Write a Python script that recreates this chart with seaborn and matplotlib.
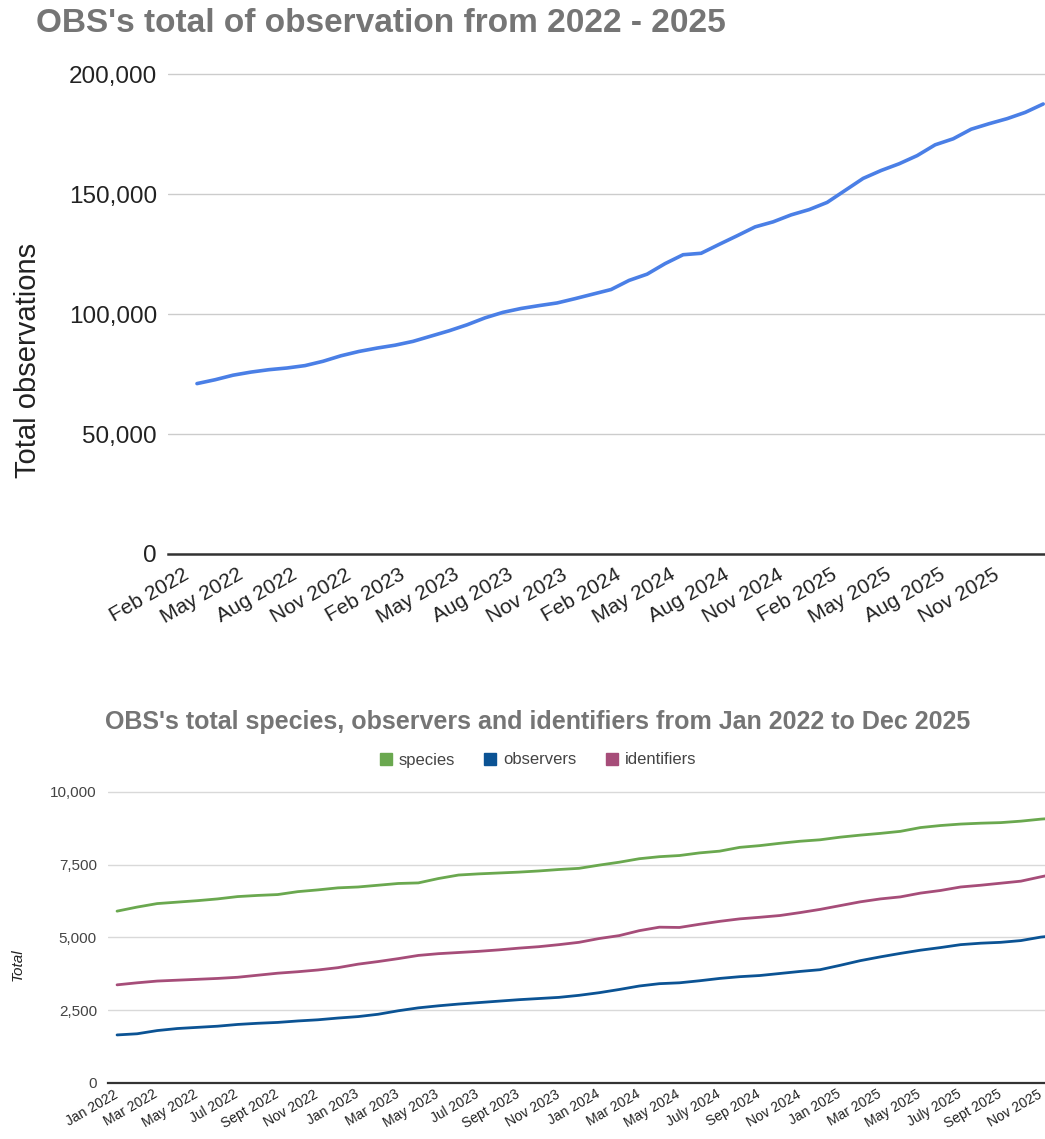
import matplotlib
matplotlib.use("Agg")
import matplotlib.pyplot as plt
import matplotlib.transforms as mtransforms
from matplotlib.ticker import FuncFormatter
from matplotlib.lines import Line2D
import pandas as pd
import seaborn as sns

# ---------------- data ----------------
months = pd.date_range("2022-01-01", "2025-12-01", freq="MS")
month_idx = list(range(len(months)))

total_observations = [
    71000, 72600, 74500, 75800, 76800, 77500, 78500, 80300, 82600, 84400,
    85800, 87000, 88600, 90800, 93000, 95500, 98400, 100700, 102300, 103500,
    104600, 106400, 108300, 110200, 114000, 116600, 121000, 124700, 125300, 129000,
    132600, 136300, 138400, 141300, 143500, 146500, 151500, 156500, 159800, 162600,
    166000, 170500, 173000, 177000, 179300, 181400, 184000, 187500,
]

species = [
    5900, 6040, 6160, 6210, 6260, 6320, 6400, 6440, 6470, 6570,
    6630, 6700, 6730, 6790, 6850, 6870, 7020, 7140, 7180, 7210,
    7240, 7280, 7330, 7370, 7480, 7580, 7700, 7770, 7810, 7900,
    7960, 8090, 8150, 8230, 8300, 8350, 8440, 8510, 8570, 8640,
    8770, 8840, 8890, 8920, 8940, 8990, 9060, 9110,
]
observers = [
    1650, 1690, 1800, 1870, 1910, 1950, 2010, 2050, 2080, 2130,
    2170, 2230, 2280, 2360, 2480, 2580, 2650, 2710, 2760, 2810,
    2860, 2900, 2940, 3010, 3100, 3210, 3330, 3410, 3440, 3510,
    3590, 3650, 3690, 3760, 3830, 3890, 4040, 4200, 4330, 4450,
    4560, 4650, 4750, 4800, 4830, 4890, 5010, 5080,
]
identifiers = [
    3370, 3440, 3500, 3530, 3560, 3590, 3630, 3700, 3770, 3820,
    3880, 3960, 4080, 4170, 4270, 4380, 4440, 4480, 4520, 4570,
    4630, 4680, 4750, 4830, 4960, 5060, 5230, 5350, 5340, 5450,
    5550, 5635, 5690, 5750, 5850, 5960, 6090, 6220, 6320, 6390,
    6520, 6610, 6730, 6790, 6860, 6930, 7080, 7220,
]

top_tick_months = ["Feb 2022", "May 2022", "Aug 2022", "Nov 2022", "Feb 2023", "May 2023",
                   "Aug 2023", "Nov 2023", "Feb 2024", "May 2024", "Aug 2024", "Nov 2024",
                   "Feb 2025", "May 2025", "Aug 2025", "Nov 2025"]
bottom_tick_labels = ["Jan 2022", "Mar 2022", "May 2022", "Jul 2022", "Sept 2022", "Nov 2022",
                      "Jan 2023", "Mar 2023", "May 2023", "Jul 2023", "Sept 2023", "Nov 2023",
                      "Jan 2024", "Mar 2024", "May 2024", "July 2024", "Sep 2024", "Nov 2024",
                      "Jan 2025", "Mar 2025", "May 2025", "July 2025", "Sept 2025", "Nov 2025"]

series_names = ["species", "observers", "identifiers"]
series_colors = ["#6aa84f", "#0b5394", "#a64d79"]

# ---------------- style ----------------
sns.set_theme(style="white")
plt.rcParams["font.family"] = ["Liberation Sans", "DejaVu Sans"]

W, H = 1045, 1139
fig = plt.figure(figsize=(W / 100, H / 100), dpi=100)
fig.patch.set_facecolor("white")


def px_rect(left, top, right, bottom):
    return [left / W, 1 - bottom / H, (right - left) / W, (bottom - top) / H]


thousands = FuncFormatter(lambda v, p: f"{int(v):,}")

# ---------------- top chart ----------------
ax1 = fig.add_axes(px_rect(168, 62, 1045, 554))
top_df = pd.DataFrame({"month": month_idx, "total": total_observations})
sns.lineplot(data=top_df, x="month", y="total", ax=ax1, color="#4a7fe6", linewidth=2.6)
ax1.set_xlim(-1.61, 47.1)
ax1.set_ylim(0, 205000)
ax1.set_yticks([0, 50000, 100000, 150000, 200000])
ax1.yaxis.set_major_formatter(thousands)
ax1.grid(axis="y", color="#cccccc", linewidth=1.0)
ax1.grid(axis="x", visible=False)
for s in ["top", "right", "left"]:
    ax1.spines[s].set_visible(False)
ax1.spines["bottom"].set_color("#333333")
ax1.spines["bottom"].set_linewidth(1.8)
ax1.tick_params(axis="y", length=0, pad=8, labelsize=17.5, labelcolor="#222222")
ax1.tick_params(axis="x", length=0, pad=8, labelsize=15, labelcolor="#222222")
top_tick_pos = [month_idx[1 + 3 * k] for k in range(len(top_tick_months))]
ax1.set_xticks(top_tick_pos)
ax1.set_xticklabels(top_tick_months, rotation=30, ha="right", va="top",
                    rotation_mode="anchor")
shift1 = mtransforms.ScaledTranslation(-32 / 100, 0, fig.dpi_scale_trans)
for lab in ax1.get_xticklabels():
    lab.set_transform(lab.get_transform() + shift1)
ax1.set_xlabel("")
ax1.set_ylabel("")
fig.text(28 / W, 1 - 360 / H, "Total observations", rotation=90,
         fontsize=21, color="#222222", ha="center", va="center")
fig.text(36 / W, 1 - 24 / H, "OBS's total of observation from 2022 - 2025",
         fontsize=24, fontweight="bold", color="#757575", ha="left", va="center")

# ---------------- bottom chart ----------------
ax2 = fig.add_axes(px_rect(108, 783, 1045, 1083))
long_df = pd.DataFrame({
    "month": month_idx * 3,
    "value": species + observers + identifiers,
    "series": [n for n in series_names for _ in month_idx],
})
sns.lineplot(data=long_df, x="month", y="value", hue="series", hue_order=series_names,
             palette=series_colors, linewidth=2.0, ax=ax2, legend=False)
ax2.set_xlim(-0.45, 46.2)
ax2.set_ylim(0, 10300)
ax2.set_yticks([0, 2500, 5000, 7500, 10000])
ax2.yaxis.set_major_formatter(thousands)
ax2.grid(axis="y", color="#d9d9d9", linewidth=1.0)
ax2.grid(axis="x", visible=False)
for s in ["top", "right", "left"]:
    ax2.spines[s].set_visible(False)
ax2.spines["bottom"].set_color("#333333")
ax2.spines["bottom"].set_linewidth(1.6)
ax2.tick_params(axis="y", length=0, pad=8, labelsize=11, labelcolor="#444444")
ax2.tick_params(axis="x", length=0, pad=3, labelsize=10, labelcolor="#222222")
ax2.set_xticks(month_idx[::2])
ax2.set_xticklabels(bottom_tick_labels, rotation=30, ha="right", va="top",
                    rotation_mode="anchor")
shift2 = mtransforms.ScaledTranslation(-4 / 100, 0, fig.dpi_scale_trans)
for lab in ax2.get_xticklabels():
    lab.set_transform(lab.get_transform() + shift2)
ax2.set_xlabel("")
ax2.set_ylabel("")
fig.text(18 / W, 1 - 965 / H, "Total", rotation=90, fontsize=11,
         fontstyle="italic", color="#222222", ha="center", va="center")

handles = [Line2D([], [], marker="s", linestyle="none", markersize=8,
                  markerfacecolor=c, markeredgecolor=c) for c in series_colors]
fig.legend(handles, series_names, loc="center", bbox_to_anchor=(537 / W, 1 - 760 / H),
           ncol=3, frameon=False, fontsize=12, labelcolor="#444444",
           handletextpad=0.3, columnspacing=1.6, handlelength=1.0)
fig.text(538 / W, 1 - 722 / H,
         "OBS's total species, observers and identifiers from Jan 2022 to Dec 2025",
         fontsize=18, fontweight="bold", color="#757575", ha="center", va="center")

fig.savefig("out.png", dpi=100, facecolor="white")
